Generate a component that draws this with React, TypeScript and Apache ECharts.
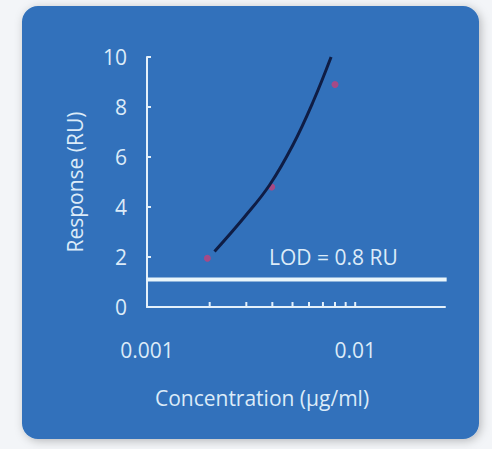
import React, { useEffect, useRef } from "react";
import * as echarts from "echarts";

const curveX = [0.00211, 0.00294, 0.00388, 0.00502, 0.00627, 0.00766];
const curveY = [2.22, 3.6, 4.88, 6.48, 8.2, 10.0];
const pointX = [0.00195, 0.00397, 0.0080];
const pointY = [1.95, 4.8, 8.9];
const minorTickX = [0.002, 0.003, 0.004, 0.005, 0.006, 0.007, 0.008, 0.009, 0.01];
const lodValue = 1.1;
const lodLabel = "LOD = 0.8 RU";
const xTickLabels = ["0.001", "0.01"];

const FONT = "'Open Sans', 'Noto Sans', sans-serif";
const TXT = "#dcebf8";

export default function App() {
  const ref = useRef<HTMLDivElement>(null);
  useEffect(() => {
    document.body.style.margin = "0";
    const chart = echarts.init(ref.current!, undefined, { renderer: "svg" });
    chart.setOption({
      animation: false,
      backgroundColor: "#f3f5f8",
      graphic: [
        {
          type: "rect",
          z: -10,
          shape: { x: 22, y: 6, width: 457, height: 433, r: 16 },
          style: {
            fill: "#3171bb",
            shadowBlur: 10,
            shadowColor: "rgba(0,0,0,0.25)",
            shadowOffsetX: 2,
            shadowOffsetY: 2,
          },
        },
        {
          type: "text",
          left: 269,
          top: 246,
          style: { text: lodLabel, fill: TXT, font: `21px ${FONT}` },
        },
      ],
      grid: { left: 147, right: 47, top: 57, bottom: 142 },
      xAxis: {
        type: "log",
        logBase: 10,
        min: 0.001,
        max: 0.027,
        name: "Concentration (µg/ml)",
        nameLocation: "middle",
        nameGap: 80,
        nameTextStyle: { color: TXT, fontSize: 21, fontFamily: FONT, padding: [0, 68, 0, 0] },
        axisLine: { lineStyle: { color: "#e4f0fa", width: 2 } },
        axisTick: { show: false },
        splitLine: { show: false },
        axisLabel: {
          color: TXT,
          fontSize: 21,
          fontFamily: FONT,
          margin: 32,
          formatter: (v: number) => (Math.abs(v - 0.001) < 1e-9 ? xTickLabels[0] : Math.abs(v - 0.01) < 1e-9 ? xTickLabels[1] : ""),
        },
      },
      yAxis: {
        type: "value",
        min: 0,
        max: 10,
        interval: 2,
        name: "Response (RU)",
        nameLocation: "middle",
        nameGap: 62,
        nameTextStyle: { color: TXT, fontSize: 21, fontFamily: FONT },
        axisLine: { show: true, lineStyle: { color: "#e4f0fa", width: 2 } },
        axisTick: { show: true, inside: true, length: 4, lineStyle: { color: "#e4f0fa", width: 2 } },
        splitLine: { show: false },
        axisLabel: { color: TXT, fontSize: 21, fontFamily: FONT, margin: 20 },
      },
      series: [
        {
          type: "custom",
          renderItem: (params: any, api: any) => {
            const p = api.coord([api.value(0), 0]);
            return {
              type: "line",
              shape: { x1: p[0], y1: p[1], x2: p[0], y2: p[1] - 5 },
              style: { stroke: "#e4f0fa", lineWidth: 2 },
            };
          },
          data: minorTickX.map((x) => [x]),
          silent: true,
        },
        {
          type: "line",
          data: [
            [0.001, lodValue],
            [0.0275, lodValue],
          ],
          symbol: "none",
          lineStyle: { color: "#eaf6fb", width: 4 },
          silent: true,
          clip: false,
        },
        {
          type: "scatter",
          data: pointX.map((x, i) => [x, pointY[i]]),
          symbolSize: 7,
          itemStyle: { color: "#c2417a", opacity: 0.8 },
        },
        {
          type: "line",
          data: curveX.map((x, i) => [x, curveY[i]]),
          smooth: 0.4,
          symbol: "none",
          lineStyle: { color: "#0f1d45", width: 3 },
        },
      ],
    });
    return () => chart.dispose();
  }, []);
  return <div ref={ref} style={{ width: 492, height: 449 }} />;
}
